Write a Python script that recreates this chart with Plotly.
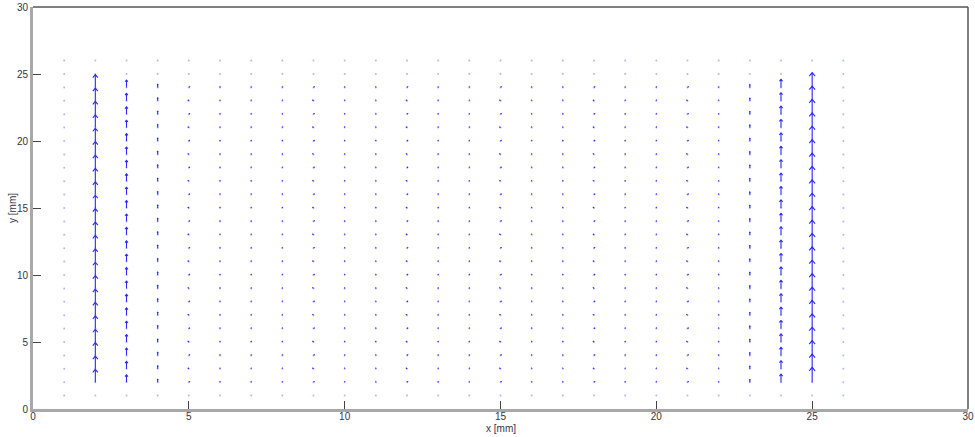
import numpy as np
import plotly.graph_objects as go
import plotly.figure_factory as ff

# Grid positions (mm)
x_grid = list(range(1, 27))
y_grid = list(range(1, 27))

# Vertical velocity per column (rows y=2..24 active)
col_v = [0.0, 0.95, 0.55, 0.22, 0.06, 0.05, 0.05, 0.05, 0.06, 0.05,
         0.05, 0.06, 0.05, 0.05, 0.06, 0.05, 0.05, 0.06, 0.05, 0.05,
         0.06, 0.05, 0.2, 0.6, 1.1, 0.0]
# Small horizontal component per column
col_u = [0.0, 0.0, 0.0, 0.0, 0.03, 0.0, 0.0, 0.0, 0.03, 0.0,
         0.0, 0.03, 0.0, 0.0, 0.03, 0.0, 0.0, 0.03, 0.0, 0.0,
         0.03, 0.0, 0.0, 0.0, 0.0, 0.0]
active_rows = list(range(2, 25))

X, Y, U, V = [], [], [], []
for i, xv in enumerate(x_grid):
    for yv in active_rows:
        X.append(xv); Y.append(yv)
        sign = 1 if (yv % 2 == 0) else -1
        U.append(col_u[i] * sign); V.append(col_v[i])
X = np.array(X, float); Y = np.array(Y, float)
U = np.array(U, float); V = np.array(V, float)
mask = (np.abs(U) + np.abs(V)) > 0

q = ff.create_quiver(X[mask], Y[mask], U[mask], V[mask], scale=1.0,
                     arrow_scale=0.25, angle=np.pi / 9,
                     line=dict(color="rgb(40,40,255)", width=1.1))

fig = go.Figure()
gx, gy = np.meshgrid(x_grid, y_grid)
fig.add_trace(go.Scatter(x=gx.ravel(), y=gy.ravel(), mode="markers",
                         marker=dict(size=2, color="rgba(130,130,255,0.6)"),
                         hoverinfo="skip", showlegend=False))
for tr in q.data:
    tr.showlegend = False
    fig.add_trace(tr)

axis_font = dict(family="Liberation Sans, Arial", size=10, color="#333344")
fig.update_layout(
    width=975, height=437,
    margin=dict(l=33, r=7, t=7, b=28, autoexpand=False),
    paper_bgcolor="white", plot_bgcolor="white",
    showlegend=False,
    xaxis=dict(range=[0, 30], tick0=0, dtick=5, ticks="inside", ticklen=8,
               tickcolor="#444444", showgrid=False, zeroline=False,
               showline=True, linecolor="#a8a8a8", linewidth=3,
               tickfont=axis_font, automargin=False, ticklabelstandoff=-4),
    yaxis=dict(range=[0, 30], tick0=0, dtick=5, ticks="inside", ticklen=8,
               tickcolor="#444444", showgrid=False, zeroline=False,
               showline=True, linecolor="#a8a8a8", linewidth=3,
               tickfont=axis_font, automargin=False),
    shapes=[
        dict(type="line", xref="paper", yref="paper", x0=0, x1=1, y0=1, y1=1,
             line=dict(color="#555555", width=1.5)),
        dict(type="line", xref="paper", yref="paper", x0=1, x1=1, y0=0, y1=1,
             line=dict(color="#555555", width=1.5)),
    ],
    annotations=[
        dict(text="x [mm]", xref="paper", yref="paper", x=0.5, y=0,
             yshift=-19, xanchor="center", yanchor="middle", showarrow=False,
             font=axis_font),
        dict(text="y [mm]", xref="paper", yref="paper", x=0, y=0.5,
             xshift=-21, xanchor="center", yanchor="middle", showarrow=False,
             textangle=-90, font=axis_font),
    ],
)

fig.write_html("out.html",
               config={"displayModeBar": False},
               post_script="document.body.style.margin='0';"
                           "document.body.style.overflow='hidden';")
